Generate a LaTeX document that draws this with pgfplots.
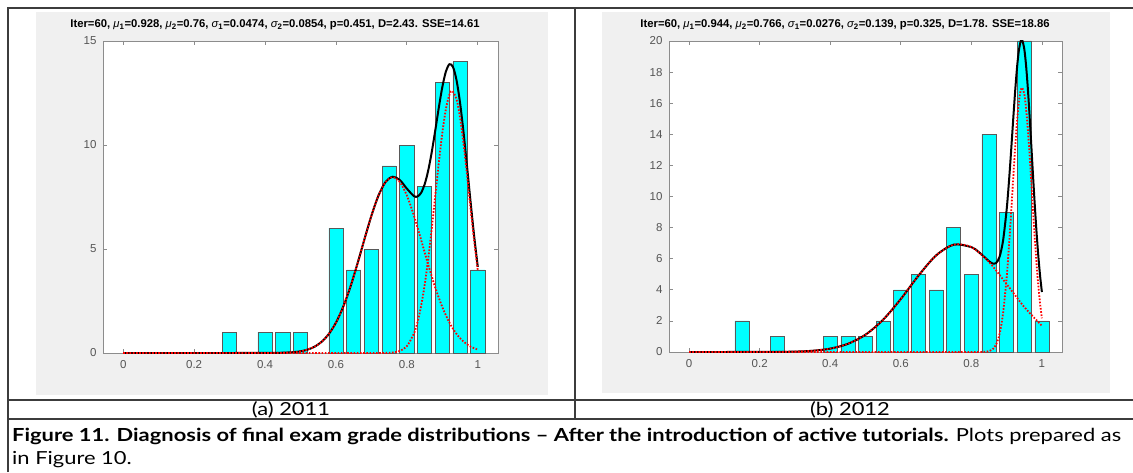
\documentclass[border=0pt]{standalone}
\usepackage{pgfplots}
\pgfplotsset{compat=1.18}
\usepackage{fontspec}
\setmainfont{Liberation Sans}
\newfontfamily\capfont{Lato}
\definecolor{bg}{RGB}{240,240,240}
\definecolor{ticklab}{RGB}{85,85,85}
\definecolor{axl}{RGB}{140,140,140}
\definecolor{framec}{RGB}{60,60,60}
\definecolor{barc}{RGB}{0,255,255}

\pgfplotsset{mstyle/.style={
  scale only axis,
  axis background/.style={fill=white},
  axis line style={axl, line width=0.8pt},
  tick style={axl, line width=0.8pt},
  major tick length=4pt,
  tick align=inside,
  ticklabel style={font=\fontsize{11.5}{12}\selectfont, text=ticklab},
  /pgf/number format/assume math mode=true,
  xmin=-0.057, xmax=1.057, ymin=0,
  xtick={0,0.2,0.4,0.6,0.8,1},
  xticklabels={0,0.2,0.4,0.6,0.8,1},
  xticklabel style={yshift=-4pt},
  yticklabel style={xshift=-3pt},
  anchor=south west,
}}
\tikzset{
  bars/.style={ybar, bar width=0.04, bar shift=0pt, fill=barc, draw=black!65, line width=0.6pt},
  sumc/.style={black, line width=2pt, smooth},
  comp/.style={red, line width=1.8pt, dash pattern=on 1.6pt off 1.6pt, smooth},
  ttl/.style={font=\fontsize{11.3}{13}\selectfont\bfseries, inner sep=0pt},
}
\newcommand\capsize{\capfont\fontsize{18}{22}\selectfont}
\newlength\caplen

\begin{document}
\settowidth{\caplen}{\capsize\textbf{Figure 11. Diagnosis of final exam grade distributions – After the introduction of active tutorials.} Plots prepared as}%
\pgfmathsetmacro\capsx{1109/\caplen}%
\begin{tikzpicture}[x=1pt,y=1pt]
\useasboundingbox (0,0) rectangle (1133,472);
% screenshot backgrounds
\fill[bg] (36,77) rectangle (548,460);
\fill[bg] (602,79) rectangle (1110,460);

% ---------- (a) 2011 ----------
\begin{axis}[mstyle, at={(103pt,119pt)}, width=395pt, height=312pt,
  ymax=15, ytick={0,5,10,15}]
\addplot[bars] coordinates {(0.30,1) (0.40,1) (0.45,1) (0.50,1) (0.60,6) (0.65,4) (0.70,5) (0.75,9) (0.80,10) (0.85,8) (0.90,13) (0.95,14) (1.00,4)};
\addplot[sumc] coordinates {(0,0) (0.1,0) (0.2,0) (0.3,0) (0.4,0.001) (0.44,0.008) (0.48,0.039) (0.5,0.082) (0.52,0.163) (0.54,0.306) (0.56,0.545) (0.58,0.917) (0.6,1.461) (0.62,2.205) (0.64,3.148) (0.66,4.257) (0.68,5.449) (0.7,6.602) (0.72,7.573) (0.74,8.227) (0.76,8.474) (0.78,8.318) (0.8,7.901) (0.82,7.542) (0.83,7.526) (0.84,7.698) (0.85,8.103) (0.86,8.76) (0.87,9.646) (0.88,10.694) (0.89,11.79) (0.9,12.788) (0.91,13.53) (0.92,13.883) (0.93,13.754) (0.94,13.12) (0.95,12.025) (0.96,10.577) (0.97,8.92) (0.98,7.208) (0.99,5.581) (1,4.138)};
\addplot[comp] coordinates {(0,0) (0.1,0) (0.2,0) (0.3,0) (0.36,0) (0.4,0.001) (0.44,0.008) (0.48,0.039) (0.5,0.082) (0.52,0.163) (0.54,0.306) (0.56,0.545) (0.58,0.917) (0.6,1.461) (0.62,2.205) (0.64,3.148) (0.66,4.257) (0.68,5.449) (0.7,6.602) (0.72,7.572) (0.74,8.222) (0.76,8.45) (0.78,8.222) (0.8,7.572) (0.82,6.602) (0.84,5.449) (0.86,4.257) (0.88,3.148) (0.9,2.205) (0.92,1.461) (0.94,0.917) (0.96,0.545) (0.98,0.306) (1,0.163)};
\addplot[comp] coordinates {(0,0) (0.2,0) (0.4,0) (0.6,0) (0.7,0) (0.72,0.001) (0.74,0.005) (0.76,0.024) (0.78,0.096) (0.8,0.329) (0.82,0.94) (0.83,1.487) (0.84,2.249) (0.85,3.253) (0.86,4.503) (0.87,5.96) (0.88,7.546) (0.89,9.138) (0.9,10.583) (0.91,11.723) (0.92,12.422) (0.928,12.6) (0.94,12.203) (0.95,11.314) (0.96,10.032) (0.97,8.509) (0.98,6.902) (0.99,5.356) (1,3.975)};
\end{axis}

% ---------- (b) 2012 ----------
\begin{axis}[mstyle, at={(669pt,120pt)}, width=393pt, height=311pt,
  ymax=20, ytick={0,2,4,6,8,10,12,14,16,18,20}]
\addplot[bars] coordinates {(0.15,2) (0.25,1) (0.40,1) (0.45,1) (0.50,1) (0.55,2) (0.60,4) (0.65,5) (0.70,4) (0.75,8) (0.80,5) (0.85,14) (0.90,9) (0.95,20) (1.00,2)};
\addplot[sumc] coordinates {(0,0) (0.1,0) (0.2,0.002) (0.25,0.007) (0.3,0.025) (0.35,0.079) (0.4,0.217) (0.45,0.524) (0.5,1.113) (0.55,2.078) (0.6,3.406) (0.65,4.907) (0.7,6.209) (0.75,6.904) (0.8,6.745) (0.82,6.446) (0.84,6.046) (0.85,5.841) (0.86,5.695) (0.87,5.72) (0.88,6.121) (0.89,7.175) (0.9,9.137) (0.905,10.48) (0.91,12.023) (0.915,13.70) (0.92,15.41) (0.925,17.02) (0.93,18.413) (0.935,19.44) (0.94,19.998) (0.944,20.06) (0.95,19.497) (0.955,18.46) (0.96,16.994) (0.965,15.22) (0.97,13.276) (0.975,11.29) (0.98,9.386) (0.985,7.648) (0.99,6.137) (0.995,4.873) (1,3.856)};
\addplot[comp] coordinates {(0,0) (0.1,0) (0.2,0.002) (0.25,0.007) (0.3,0.025) (0.35,0.079) (0.4,0.217) (0.45,0.524) (0.5,1.113) (0.55,2.078) (0.6,3.406) (0.65,4.907) (0.7,6.209) (0.75,6.904) (0.8,6.745) (0.85,5.79) (0.9,4.367) (0.95,2.894) (1,1.685)};
\addplot[comp] coordinates {(0,0) (0.2,0) (0.4,0) (0.6,0) (0.8,0) (0.82,0.001) (0.84,0.014) (0.85,0.051) (0.86,0.166) (0.87,0.467) (0.88,1.156) (0.89,2.507) (0.9,4.77) (0.905,6.265) (0.91,7.959) (0.915,9.789) (0.92,11.648) (0.925,13.41) (0.93,14.948) (0.935,16.12) (0.94,16.823) (0.944,17) (0.95,16.603) (0.955,15.70) (0.96,14.37) (0.965,12.73) (0.97,10.909) (0.975,9.048) (0.98,7.261) (0.985,5.639) (0.99,4.24) (0.995,3.084) (1,2.171)};
\end{axis}

% titles
\node[ttl] at (275,447)
  {Iter=60, {\mdseries\itshape μ}\textsubscript{1}=0.928, {\mdseries\itshape μ}\textsubscript{2}=0.76, {\mdseries\itshape σ}\textsubscript{1}=0.0474, {\mdseries\itshape σ}\textsubscript{2}=0.0854, p=0.451, D=2.43. SSE=14.61};
\node[ttl] at (845,447)
  {Iter=60, {\mdseries\itshape μ}\textsubscript{1}=0.944, {\mdseries\itshape μ}\textsubscript{2}=0.766, {\mdseries\itshape σ}\textsubscript{1}=0.0276, {\mdseries\itshape σ}\textsubscript{2}=0.139, p=0.325, D=1.78. SSE=18.86};

% table frame
\draw[framec, line width=1.5pt] (8,0) -- (8,464) -- (1133,464);
\draw[framec, line width=1.5pt] (575,464) -- (575,53);
\draw[framec, line width=1.5pt] (8,72) -- (1133,72);
\draw[framec, line width=1.5pt] (8,53) -- (1133,53);

% sub labels
\node[inner sep=0pt, anchor=base] at (291,57) {\scalebox{\capsx}[1]{\capsize (a) 2011}};
\node[inner sep=0pt, anchor=base] at (850,57) {\scalebox{\capsx}[1]{\capsize (b) 2012}};

% caption
\node[anchor=base west, inner sep=0pt] at (12,31)
  {\scalebox{\capsx}[1]{\capsize\textbf{Figure 11. Diagnosis of final exam grade distributions – After the introduction of active tutorials.} Plots prepared as}};
\node[anchor=base west, inner sep=0pt] at (12,8)
  {\scalebox{\capsx}[1]{\capsize in Figure 10.}};
\end{tikzpicture}
\end{document}
